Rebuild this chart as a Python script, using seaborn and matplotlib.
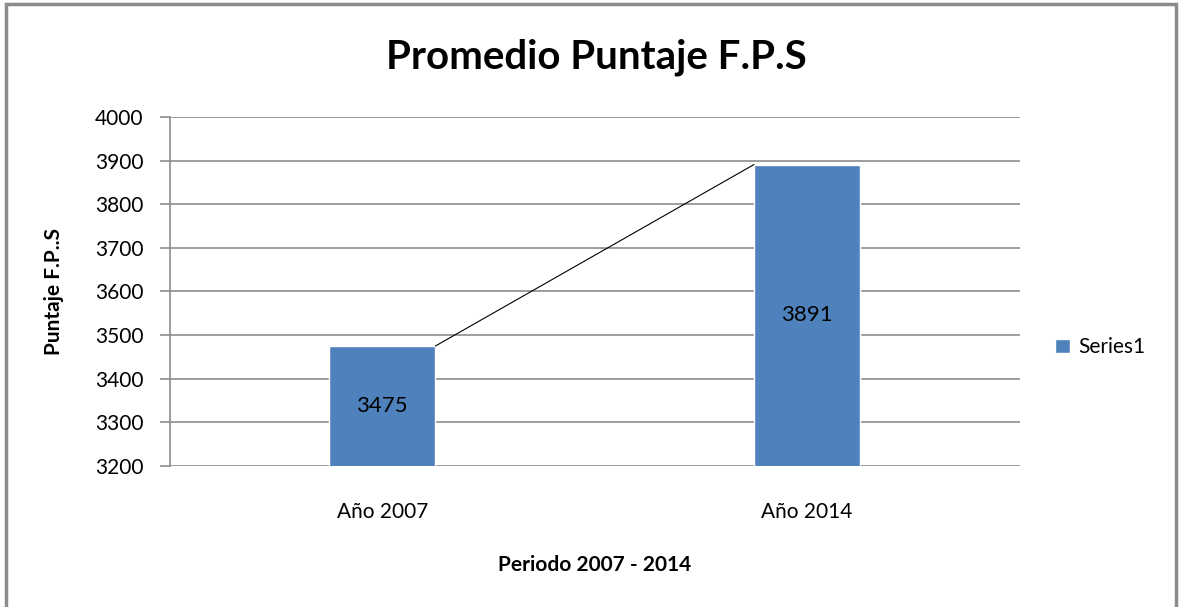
import matplotlib
matplotlib.use("Agg")
import matplotlib.pyplot as plt
import seaborn as sns
import pandas as pd
from matplotlib.patches import Rectangle, Patch

categories = ["Año 2007", "Año 2014"]
values = [3475, 3891]
series_name = "Series1"
yticks = [3200, 3300, 3400, 3500, 3600, 3700, 3800, 3900, 4000]

sns.set_theme(style="white")
plt.rcParams['font.family'] = ['Lato', 'DejaVu Sans']
plt.rcParams['text.color'] = 'black'

df = pd.DataFrame({"cat": categories, "val": values})
bar_color = "#4F81BD"
bar_w = 0.25

fig = plt.figure(figsize=(11.8, 6.07), dpi=100)
fig.patch.set_facecolor("white")
fig.add_artist(Rectangle((0.005, -0.02), 0.992, 1.013, transform=fig.transFigure,
                         fill=False, edgecolor="#8c8c8c", linewidth=2.5))
ax = fig.add_axes([0.144, 0.2323, 0.72, 0.575])
sns.barplot(data=df, x="cat", y="val", color=bar_color, width=bar_w, ax=ax,
            saturation=1, zorder=3)
ax.set_ylim(yticks[0], yticks[-1])
ax.set_xlim(-0.5, 1.5)
ax.set_yticks(yticks)
ax.yaxis.grid(True, color="#8c8c8c", linewidth=1.2)
ax.set_axisbelow(True)
for s in ["top", "right", "bottom"]:
    ax.spines[s].set_visible(False)
ax.spines["left"].set_color("#8c8c8c")
ax.spines["left"].set_linewidth(1.2)
ax.tick_params(axis="y", left=True, length=7, color="#8c8c8c", width=1.2,
               labelsize=15, pad=12, labelcolor="black")
ax.tick_params(axis="x", bottom=False, labelsize=15, pad=20, labelcolor="black")

# series line between bars
ax.plot([0 + bar_w / 2, 1 - bar_w / 2], [values[0], values[1]],
        color="black", linewidth=0.8, zorder=4)

for i, v in enumerate(values):
    ax.text(i, (v + yticks[0]) / 2, f"{v}",
            ha="center", va="center", fontsize=16, color="black", zorder=5)

ax.set_xlabel("Periodo 2007 - 2014", fontsize=15, fontweight="bold", labelpad=24,
              color="black")
ax.set_ylabel("Puntaje F.P..S", fontsize=15, fontweight="bold", labelpad=22,
              color="black")

fig.text(0.505, 0.905, "Promedio Puntaje F.P.S", ha="center", va="center",
         fontsize=29, fontweight="bold", color="black")

ax.legend(handles=[Patch(facecolor=bar_color, label=series_name)],
          loc="center left", bbox_to_anchor=(1.02, 0.34), frameon=False,
          fontsize=15, handlelength=0.7, handleheight=0.7, handletextpad=0.4,
          labelcolor="black")

fig.savefig("out.png", dpi=100, facecolor="white")
